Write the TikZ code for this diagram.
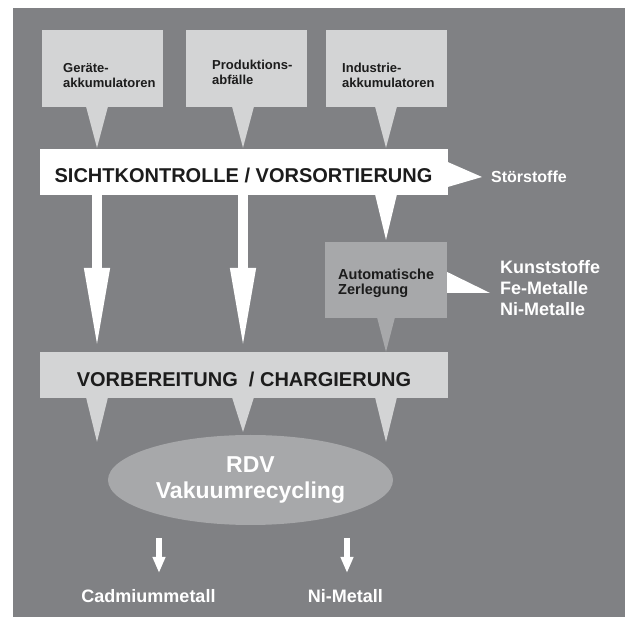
\documentclass[tikz,border=0pt]{standalone}
\usepackage{fontspec}
\setmainfont{Liberation Sans}
\usetikzlibrary{positioning}
\usetikzlibrary{calc}
\usetikzlibrary{shapes.geometric}
\usetikzlibrary{arrows.meta}
\definecolor{bggray}{HTML}{808184}
\definecolor{boxgray}{HTML}{D3D4D5}
\definecolor{midgray}{HTML}{A7A8AA}
\definecolor{inkgray}{HTML}{1C1C1C}
\tikzset{
  srcbox/.style={fill=boxgray, inner sep=0pt, minimum width=121pt, minimum height=77pt, anchor=north west},
  srctext/.style={anchor=base west, align=left, inner sep=0pt, text=inkgray,
    font=\bfseries\fontsize{13}{15}\selectfont},
  stagebox/.style={inner sep=0pt, minimum width=408pt, minimum height=46pt, text=inkgray,
    text height=22pt, text depth=0pt, font=\bfseries\fontsize{20}{24}\selectfont},
  outtext/.style={text=white, align=left, font=\bfseries\fontsize{18}{21}\selectfont},
  bigarrow/.style={white, line width=10.5pt, -{Triangle[width=23pt,length=84pt]}},
  smallarrow/.style={white, line width=6pt, -{Triangle[width=12pt,length=16pt]}}
}

\begin{document}
\begin{tikzpicture}[x=1pt,y=-1pt]
  \useasboundingbox (0,0) rectangle (625,617);
  \fill[bggray] (13,8) rectangle (625,617);
  \coordinate (col1) at (97,0);
  \coordinate (col2) at (243,0);
  \coordinate (col3) at (386,0);

  \node[srcbox] (geraete) at (42,30) {};
  \node[srcbox] (prod) at (186,30) {};
  \node[srcbox] (indus) at (326,30) {};
  \node[srctext] (geraetetxt) at (63,88) {Geräte-\\akkumulatoren};
  \node[srctext] (prodtxt) at (212,85) {Produktions-\\abfälle};
  \node[srctext] (industxt) at (342,88) {Industrie-\\akkumulatoren};

  \node[stagebox, fill=white] (sicht) at (243.5,172) {SICHTKONTROLLE / VORSORTIERUNG};
  \foreach \src/\col in {geraete/col1, prod/col2, indus/col3}
    \fill[boxgray] ($(\col |- \src.south)+(-11,-1)$) -- ($(\col |- \src.south)+(11,-1)$)
      -- ($(\col |- sicht.north)+(0,-1)$) -- cycle;

  \node[outtext, anchor=west, inner xsep=9pt, font=\bfseries\fontsize{16}{19}\selectfont]
    (stoer) at (482,177) {Störstoffe};
  \fill[white] ([yshift=10pt]sicht.east) -- (stoer.west) -- ([yshift=-15pt]sicht.east) -- cycle;

  \node[fill=midgray, inner sep=0pt, minimum width=122pt, minimum height=76pt] (zerl) at (386,280) {};
  \node[anchor=base west, align=left, inner sep=0pt, text=inkgray,
    font=\bfseries\fontsize{14.5}{15.5}\selectfont] (zerltxt) at (338,295) {Automatische\\Zerlegung};
  \fill[white] ($(col3 |- sicht.south)+(-11,-1)$) -- ($(col3 |- sicht.south)+(11,-1)$)
    -- ($(col3 |- zerl.north)+(0,-2)$) -- cycle;

  \node[outtext, anchor=west, inner xsep=10pt] (fract) at (490,288) {Kunststoffe\\Fe-Metalle\\Ni-Metalle};
  \fill[white] ([yshift=8pt]zerl.east) -- ([yshift=-5pt]fract.west) -- ([yshift=-13pt]zerl.east) -- cycle;

  \node[stagebox, fill=boxgray, text height=24pt] (vorb) at (244,375) {VORBEREITUNG~~/ CHARGIERUNG};
  \fill[midgray] ($(col3 |- zerl.south)+(-9,-1)$) -- ($(col3 |- zerl.south)+(9,-1)$)
    -- (col3 |- vorb.north) -- cycle;
  \draw[bigarrow] (col1 |- sicht.south) -- (col1 |- vorb.north);
  \draw[bigarrow] (col2 |- sicht.south) -- (col2 |- vorb.north);

  \node[ellipse, fill=midgray, inner sep=0pt, minimum width=285pt, minimum height=90pt,
    text=white, align=center, font=\bfseries\fontsize{23}{26}\selectfont]
    (rdv) at (250.5,480) {RDV\\Vakuumrecycling};
  \foreach \col/\tip in {col1/442, col2/432, col3/442}
    \fill[boxgray] ($(\col |- vorb.south)+(-11,-1)$) -- ($(\col |- vorb.south)+(11,-1)$)
      -- (\col |- 0,\tip) -- cycle;

  \node[outtext, anchor=base] (cad) at (148.5,603) {Cadmiummetall};
  \node[outtext, anchor=base] (nimet) at (345.5,603) {Ni-Metall};
  \coordinate (cadin) at (159,538);
  \coordinate (niin) at (347,538);
  \draw[smallarrow] (cadin) -- ++(0,35);
  \draw[smallarrow] (niin) -- ++(0,35);
\end{tikzpicture}
\end{document}
